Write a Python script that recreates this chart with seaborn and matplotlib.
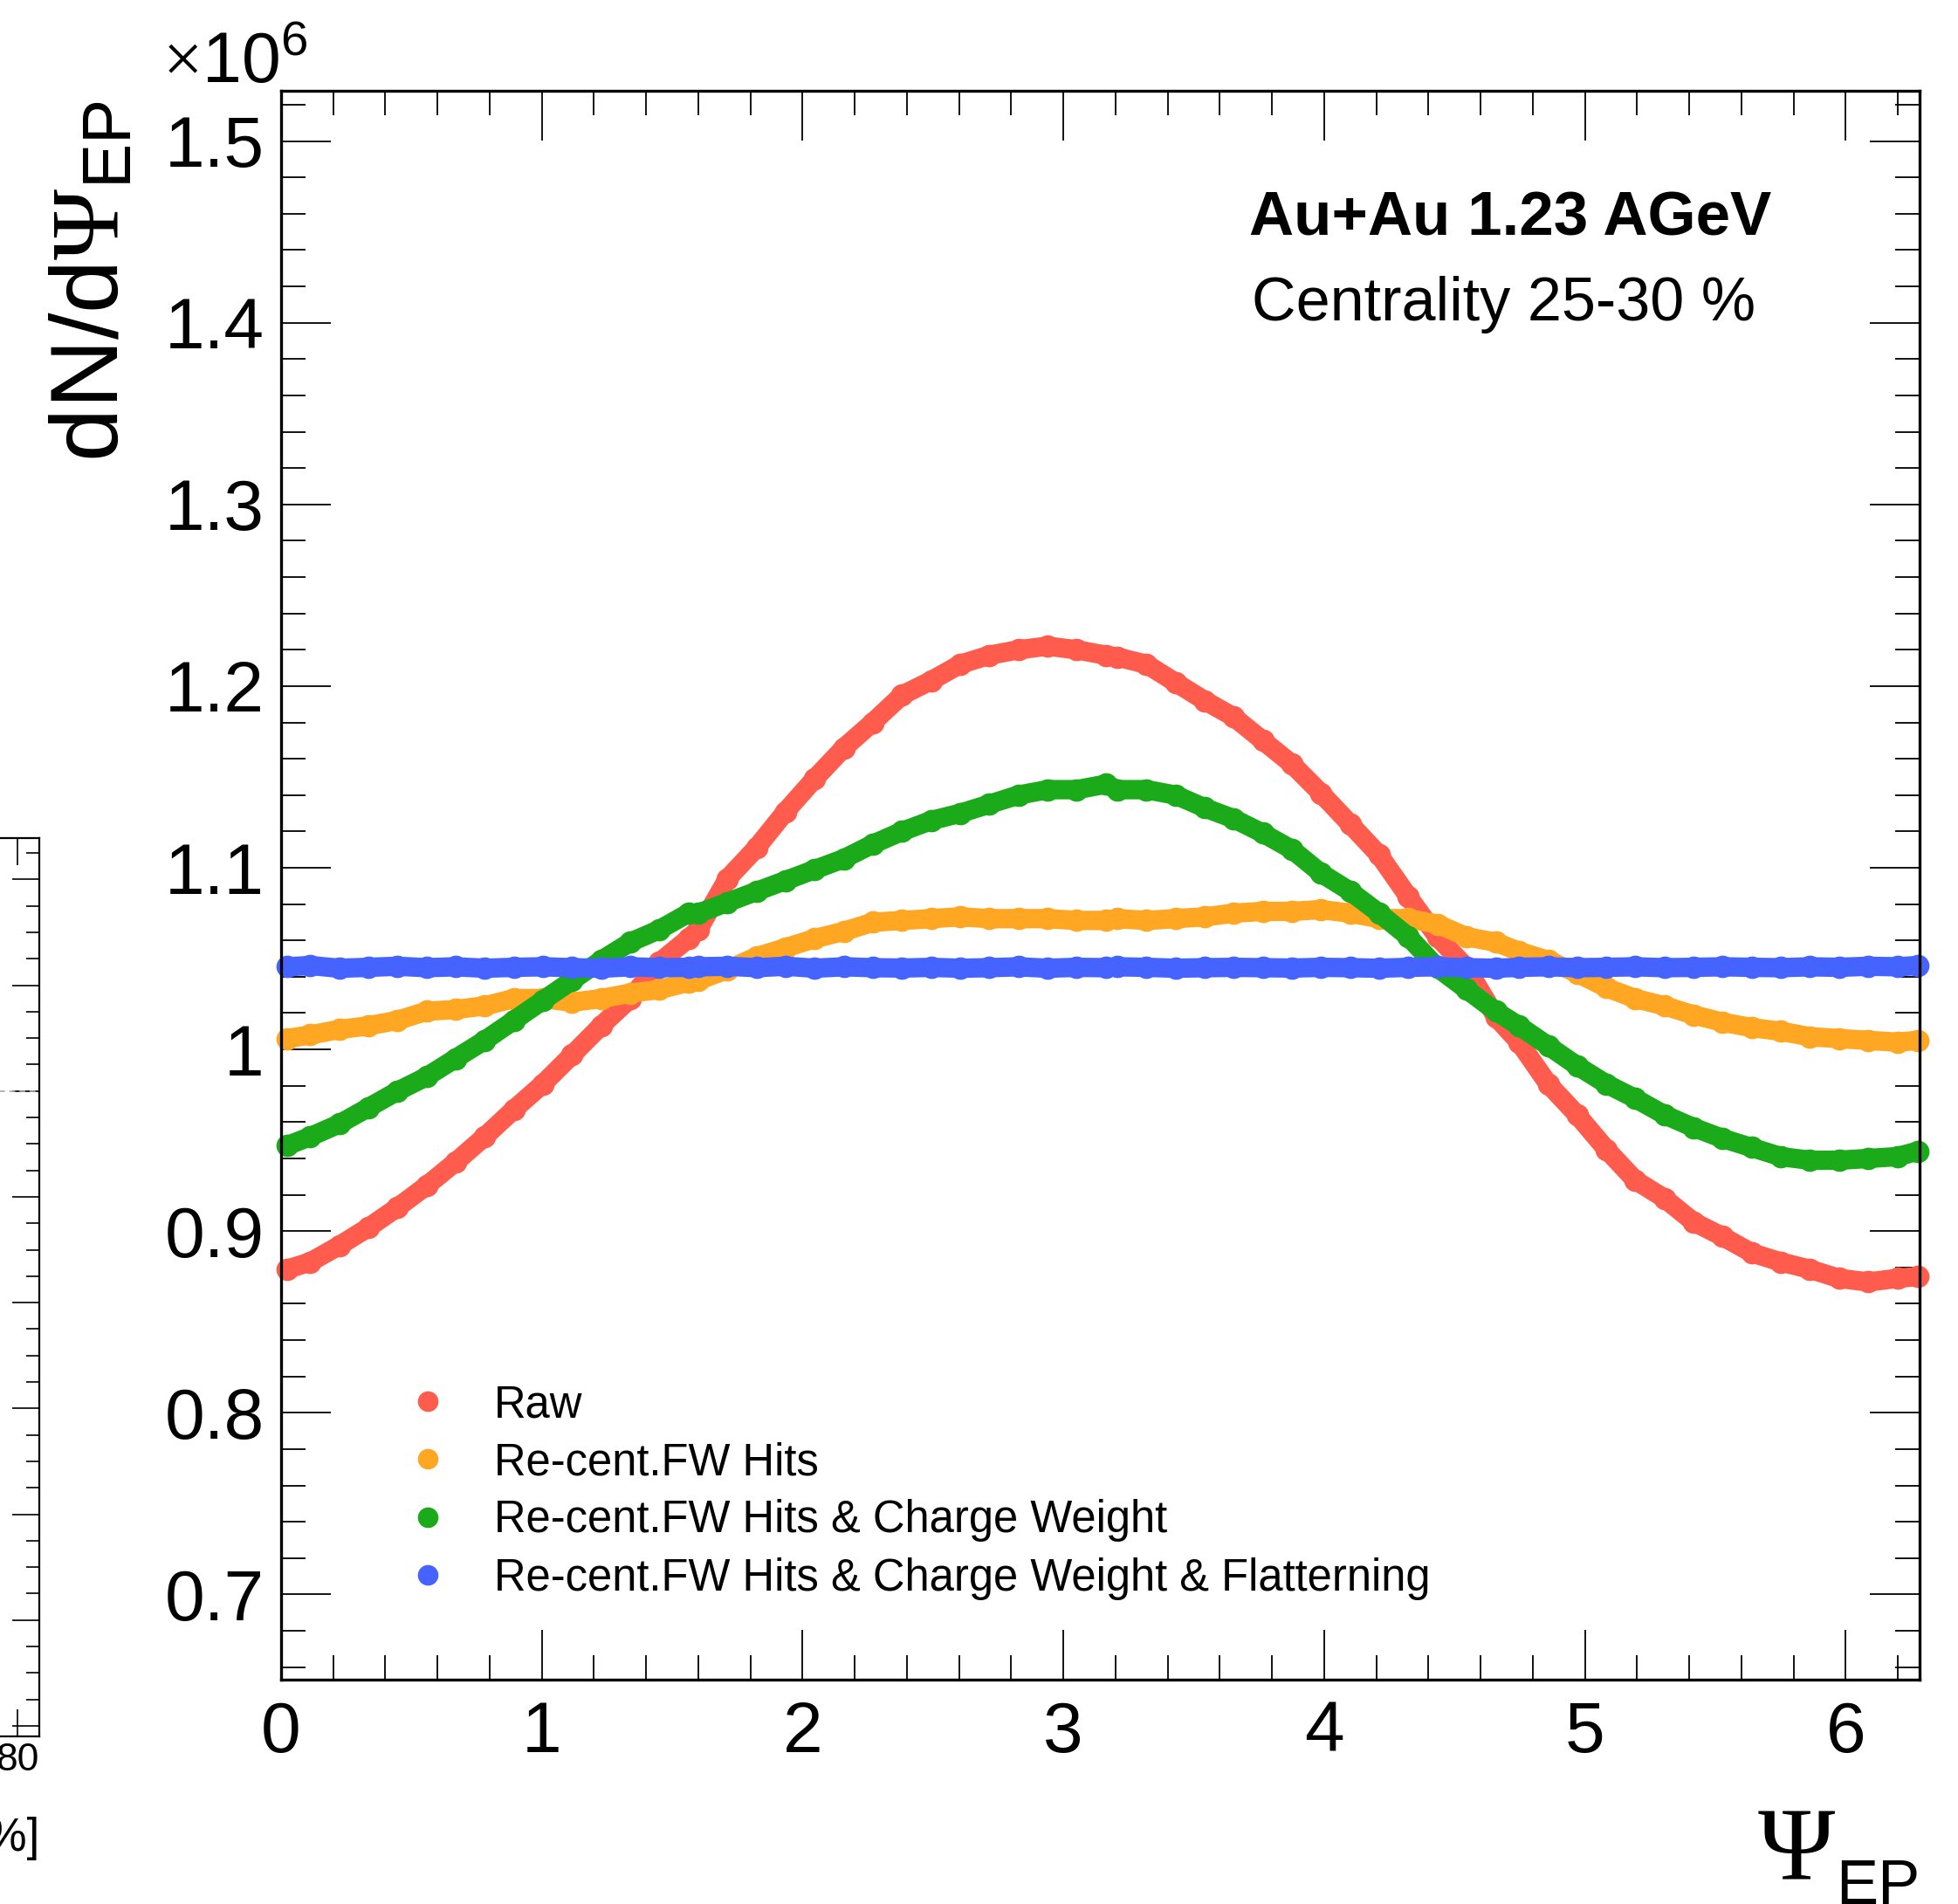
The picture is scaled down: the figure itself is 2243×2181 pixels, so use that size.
import numpy as np
import pandas as pd
import matplotlib
matplotlib.use("Agg")
import matplotlib.pyplot as plt
import seaborn as sns
from matplotlib.lines import Line2D
from matplotlib.ticker import MultipleLocator, FuncFormatter, FixedLocator

# ---------------- data (values in units of 1e6) ----------------
psi = [0.022, 0.112, 0.223, 0.335, 0.446, 0.558, 0.669, 0.781, 0.893, 1.004, 1.116, 1.227, 1.339, 1.451, 1.562,
       1.600, 1.712, 1.823, 1.935, 2.046, 2.158, 2.269, 2.381, 2.493, 2.604, 2.716, 2.827, 2.939, 3.051, 3.162,
       3.207, 3.319, 3.430, 3.542, 3.653, 3.765, 3.877, 3.988, 4.100, 4.211, 4.323, 4.434, 4.546, 4.658,
       4.747, 4.859, 4.970, 5.082, 5.193, 5.305, 5.417, 5.528, 5.640, 5.751, 5.863, 5.974, 6.086, 6.198, 6.276]

raw = [0.879, 0.883, 0.892, 0.902, 0.913, 0.925, 0.938, 0.952, 0.967, 0.981, 0.997, 1.013, 1.028, 1.048, 1.061,
       1.066, 1.094, 1.111, 1.131, 1.149, 1.166, 1.180, 1.195, 1.203, 1.212, 1.217, 1.220, 1.222, 1.220, 1.217,
       1.216, 1.212, 1.202, 1.192, 1.183, 1.170, 1.157, 1.141, 1.124, 1.107, 1.084, 1.062, 1.045, 1.018,
       1.004, 0.981, 0.964, 0.945, 0.928, 0.918, 0.905, 0.897, 0.888, 0.883, 0.879, 0.874, 0.872, 0.874, 0.875]

recent = [1.006, 1.008, 1.011, 1.013, 1.016, 1.021, 1.022, 1.024, 1.028, 1.028, 1.026, 1.028, 1.031, 1.033, 1.037,
          1.038, 1.044, 1.051, 1.056, 1.061, 1.065, 1.070, 1.071, 1.072, 1.073, 1.072, 1.072, 1.072, 1.071, 1.071,
          1.072, 1.071, 1.072, 1.073, 1.075, 1.076, 1.076, 1.077, 1.075, 1.072, 1.072, 1.069, 1.062, 1.059,
          1.054, 1.049, 1.042, 1.034, 1.028, 1.024, 1.019, 1.015, 1.012, 1.010, 1.007, 1.006, 1.005, 1.004, 1.005]

charge = [0.947, 0.952, 0.959, 0.968, 0.977, 0.985, 0.995, 1.005, 1.016, 1.027, 1.038, 1.049, 1.059, 1.066, 1.075,
          1.075, 1.081, 1.087, 1.093, 1.099, 1.105, 1.113, 1.120, 1.126, 1.130, 1.135, 1.140, 1.143, 1.143, 1.146,
          1.143, 1.143, 1.140, 1.133, 1.127, 1.119, 1.110, 1.097, 1.087, 1.075, 1.062, 1.045, 1.033, 1.021,
          1.013, 1.002, 0.991, 0.981, 0.973, 0.964, 0.957, 0.951, 0.946, 0.941, 0.939, 0.939, 0.940, 0.941, 0.944]

flat = [1.0455, 1.0462, 1.0447, 1.0452, 1.0458, 1.0450, 1.0455, 1.0447, 1.0452, 1.0455, 1.0450, 1.0447, 1.0455, 1.0450, 1.0452,
        1.0455, 1.0458, 1.0450, 1.0458, 1.0447, 1.0455, 1.0450, 1.0448, 1.0452, 1.0447, 1.0450, 1.0455, 1.0447, 1.0452, 1.0450,
        1.0455, 1.0452, 1.0447, 1.0450, 1.0452, 1.0450, 1.0448, 1.0452, 1.0450, 1.0447, 1.0452, 1.0455, 1.0450, 1.0447,
        1.0452, 1.0455, 1.0450, 1.0452, 1.0455, 1.0450, 1.0452, 1.0455, 1.0452, 1.0450, 1.0455, 1.0452, 1.0458, 1.0455, 1.0462]

series_names = ["Raw",
                "Re-cent.FW Hits",
                "Re-cent.FW Hits & Charge Weight",
                "Re-cent.FW Hits & Charge Weight & Flatterning"]
series_colors = ["#ff5c4d", "#ffa623", "#1aaa1a", "#4563ff"]

x_ticks = [0, 1, 2, 3, 4, 5, 6]
y_ticks = [0.7, 0.8, 0.9, 1.0, 1.1, 1.2, 1.3, 1.4, 1.5]

# ---------------- figure ----------------
W, H = 2243, 2181
sns.set_style("ticks")
plt.rcParams["font.family"] = ["Liberation Sans", "DejaVu Sans"]
plt.rcParams["mathtext.fontset"] = "custom"
plt.rcParams["mathtext.rm"] = "Liberation Serif"
plt.rcParams["mathtext.sf"] = "Liberation Sans"
plt.rcParams["mathtext.it"] = "Liberation Serif:italic"
for key in ["text.color", "axes.labelcolor", "xtick.color", "ytick.color", "axes.edgecolor"]:
    plt.rcParams[key] = "black"

fig = plt.figure(figsize=(W / 100, H / 100), dpi=100)
fig.patch.set_facecolor("white")

def fx(px):
    return px / W

def fy(py):
    return 1 - py / H

# main axes
ax = fig.add_axes([fx(322), fy(1924), fx(2199) - fx(322), fy(104) - fy(1924)])
ax.set_facecolor("white")

df = pd.concat([pd.DataFrame({"psi": psi, "value": v, "series": n})
                for n, v in zip(series_names, [raw, recent, charge, flat])], ignore_index=True)

sns.lineplot(data=df, x="psi", y="value", hue="series", hue_order=series_names,
             palette=series_colors, marker="o", markersize=18.5, markeredgewidth=0,
             linewidth=16, solid_capstyle="round", solid_joinstyle="round",
             estimator=None, sort=False, legend=False, ax=ax, clip_on=False)

ax.set_xlim(0, 2 * np.pi)
ax.set_ylim(0.6531, 1.5277)
ax.set_xlabel("")
ax.set_ylabel("")

ax.xaxis.set_major_locator(FixedLocator(x_ticks))
ax.xaxis.set_minor_locator(MultipleLocator(0.2))
ax.yaxis.set_major_locator(FixedLocator(y_ticks))
ax.yaxis.set_minor_locator(MultipleLocator(0.02))
ax.yaxis.set_major_formatter(FuncFormatter(lambda v, p: f"{v:g}"))
ax.xaxis.set_major_formatter(FuncFormatter(lambda v, p: f"{v:g}"))

ax.tick_params(which="both", direction="in", top=True, right=True, width=1.3,
               color="black", labelcolor="black")
ax.tick_params(which="major", length=41, labelsize=59)
ax.tick_params(which="minor", length=20)
ax.tick_params(axis="x", which="major", pad=17)
ax.tick_params(axis="y", which="major", pad=14)
for s in ax.spines.values():
    s.set_linewidth(2.4)
    s.set_color("black")
    s.set_visible(True)

# legend
handles = [Line2D([], [], marker="o", ls="", color=c, markersize=17, markeredgewidth=0) for c in series_colors]
leg = ax.legend(handles, series_names, loc="upper left", bbox_to_anchor=(fx(439), fy(1585)),
                bbox_transform=fig.transFigure, frameon=False, fontsize=36.5,
                handlelength=2.0, handletextpad=0.5, labelspacing=0.34,
                borderpad=0, borderaxespad=0)
for t in leg.get_texts():
    t.set_color("black")

# annotations
fig.text(fx(1431), fy(270), "Au+Au 1.23 AGeV", fontsize=51, fontweight="bold", va="baseline", ha="left")
fig.text(fx(1434), fy(367), "Centrality 25-30 %", fontsize=50.5, va="baseline", ha="left")

# axis titles
fig.text(fx(135), fy(115), r"$\mathsf{dN/d}\Psi_{\mathsf{EP}}$", fontsize=79, rotation=90,
         rotation_mode="anchor", ha="right", va="baseline")
fig.text(fx(2103), fy(2152), r"$\Psi$", fontsize=86, ha="right", va="baseline")
fig.text(fx(2199), fy(2181), "EP", fontsize=52, ha="right", va="baseline")
fig.text(fx(186), fy(94), r"$\times\mathsf{10^{6}}$", fontsize=58, ha="left", va="baseline")

# neighbouring panel, cut off at the left edge
axl = fig.add_axes([-0.4, fy(1989), fx(45) + 0.4, fy(960) - fy(1989)])
axl.set_xlim(0, 82.2)
axl.set_ylim(-0.099, 8.391)
axl.xaxis.set_major_locator(FixedLocator([20, 40, 60, 80]))
axl.yaxis.set_major_locator(MultipleLocator(1))
axl.yaxis.set_minor_locator(MultipleLocator(0.25))
axl.tick_params(which="both", direction="in", top=True, right=True, width=1.2,
                labelleft=False, labelsize=32, pad=5, color="black", labelcolor="black")
axl.tick_params(which="major", length=22)
axl.tick_params(which="minor", length=11)
axl.axhline(6, color="#aaaaaa", lw=1.2, ls=(0, (4, 3)))
for s in axl.spines.values():
    s.set_linewidth(1.6)
    s.set_color("black")
fig.text(fx(45), fy(2120), "Centrality [%]", fontsize=38, ha="right", va="baseline")

fig.savefig("out.png", dpi=100, facecolor="white")
